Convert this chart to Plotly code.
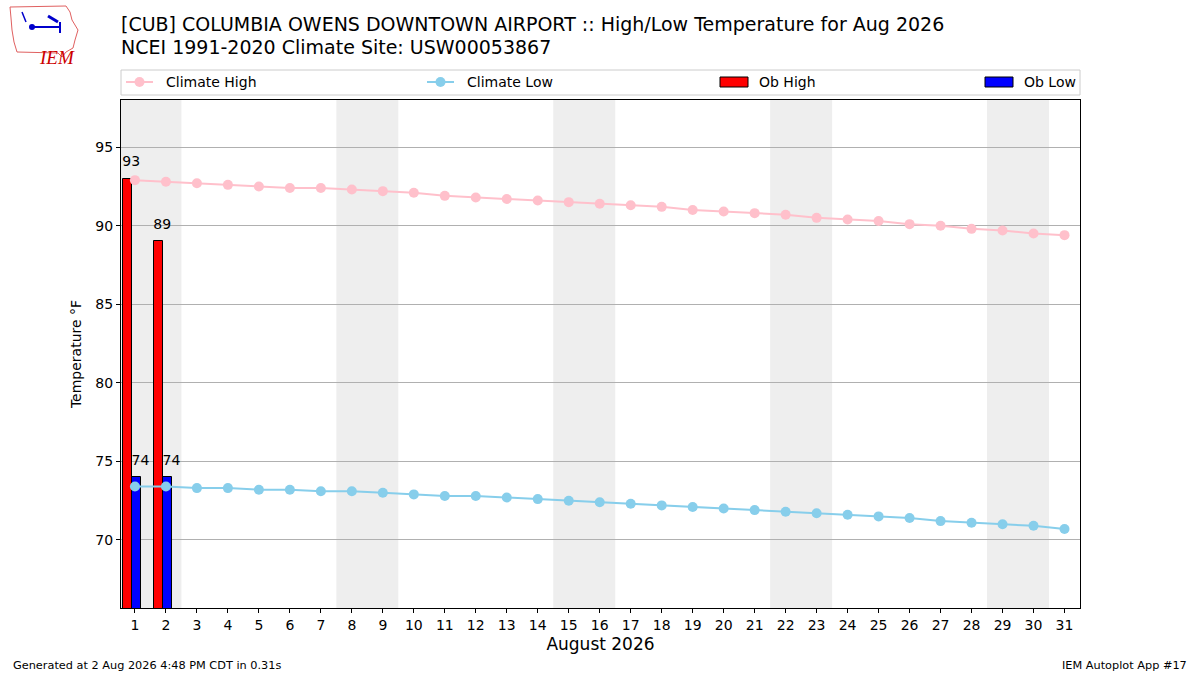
import plotly.graph_objects as go

# Data
days = list(range(1, 32))
climate_high = [92.9, 92.8, 92.7, 92.6, 92.5, 92.4, 92.4, 92.3, 92.2, 92.1,
                91.9, 91.8, 91.7, 91.6, 91.5, 91.4, 91.3, 91.2, 91.0, 90.9,
                90.8, 90.7, 90.5, 90.4, 90.3, 90.1, 90.0, 89.8, 89.7, 89.5, 89.4]
climate_low = [73.4, 73.4, 73.3, 73.3, 73.2, 73.2, 73.1, 73.1, 73.0, 72.9,
               72.8, 72.8, 72.7, 72.6, 72.5, 72.4, 72.3, 72.2, 72.1, 72.0,
               71.9, 71.8, 71.7, 71.6, 71.5, 71.4, 71.2, 71.1, 71.0, 70.9, 70.7]
ob_days = [1, 2]
ob_high = [93, 89]
ob_low = [74, 74]
weekend_starts = [1, 8, 15, 22, 29]  # Sat/Sun pairs in Aug 2026

FONT = "DejaVu Sans"

# plot area in pixels
L, R, T, B = 121, 1080, 100, 608


def px(x):
    return (x - L) / (R - L)


def py(y):
    return (B - y) / (B - T)


fig = go.Figure()

# weekend shading
for d in weekend_starts:
    fig.add_shape(type="rect", x0=d - 0.5, x1=d + 1.5, y0=0, y1=1,
                  xref="x", yref="paper", fillcolor="#eeeeee",
                  line=dict(width=0), layer="below")

fig.add_trace(go.Bar(x=ob_days, y=ob_high, offset=-0.4, width=0.3,
                     marker=dict(color="#ff0000", line=dict(color="black", width=1)),
                     name="Ob High", showlegend=False, hoverinfo="x+y"))
fig.add_trace(go.Bar(x=ob_days, y=ob_low, offset=-0.1, width=0.3,
                     marker=dict(color="#0000ff", line=dict(color="black", width=1)),
                     name="Ob Low", showlegend=False, hoverinfo="x+y"))

fig.add_trace(go.Scatter(x=days, y=climate_high, mode="lines+markers",
                         line=dict(color="#ffc0cb", width=2),
                         marker=dict(color="#ffc0cb", size=10),
                         name="Climate High", showlegend=False))
fig.add_trace(go.Scatter(x=days, y=climate_low, mode="lines+markers",
                         line=dict(color="#87ceeb", width=2),
                         marker=dict(color="#87ceeb", size=10),
                         name="Climate Low", showlegend=False))

# value labels
fig.add_trace(go.Scatter(x=[d - 0.12 for d in ob_days], y=[v + 1 for v in ob_high],
                         mode="text", text=[str(v) for v in ob_high],
                         textfont=dict(family=FONT, size=14, color="black"),
                         showlegend=False, hoverinfo="skip", cliponaxis=False))
fig.add_trace(go.Scatter(x=[d + 0.18 for d in ob_days], y=[v + 1 for v in ob_low],
                         mode="text", text=[str(v) for v in ob_low],
                         textfont=dict(family=FONT, size=14, color="black"),
                         showlegend=False, hoverinfo="skip", cliponaxis=False))

# hand-drawn legend box like matplotlib's expanded legend
fig.add_shape(type="rect", xref="paper", yref="paper", x0=px(121), x1=px(1080),
              y0=py(95), y1=py(70), line=dict(color="#cccccc", width=1),
              fillcolor="white")
legend_items = [
    ("Climate High", "line", "#ffc0cb", 126),
    ("Climate Low", "line", "#87ceeb", 427),
    ("Ob High", "rect", "#ff0000", 720),
    ("Ob Low", "rect", "#0000ff", 985),
]
for label, kind, col, x0 in legend_items:
    if kind == "line":
        fig.add_shape(type="line", xref="paper", yref="paper",
                      x0=px(x0), x1=px(x0 + 27), y0=py(82), y1=py(82),
                      line=dict(color=col, width=2))
        fig.add_shape(type="circle", xref="paper", yref="paper",
                      x0=px(x0 + 8.5), x1=px(x0 + 18.5), y0=py(87), y1=py(77),
                      fillcolor=col, line=dict(color=col, width=0))
        tx = x0 + 38
    else:
        fig.add_shape(type="rect", xref="paper", yref="paper",
                      x0=px(x0), x1=px(x0 + 28), y0=py(87), y1=py(77),
                      fillcolor=col, line=dict(color="black", width=1))
        tx = x0 + 37
    fig.add_annotation(x=px(tx), y=py(82), xref="paper", yref="paper",
                       text=label, showarrow=False, xanchor="left", yanchor="middle",
                       font=dict(family=FONT, size=14, color="black"))

# simple IEM logo
iowa = [(10, 7), (66, 6), (70, 12), (72, 20), (78, 30), (75, 40), (73, 48),
        (66, 52), (62, 57), (58, 53), (17, 52), (14, 42), (12, 30), (11, 18)]
path = "M " + " L ".join(f"{px(x)},{py(y)}" for x, y in iowa) + " Z"
fig.add_shape(type="path", xref="paper", yref="paper", path=path,
              line=dict(color="#e06060", width=1))
fig.add_shape(type="line", xref="paper", yref="paper", x0=px(31), x1=px(60),
              y0=py(27), y1=py(27), line=dict(color="#0000cc", width=2))
fig.add_shape(type="circle", xref="paper", yref="paper", x0=px(29), x1=px(35),
              y0=py(30), y1=py(24), fillcolor="#0000cc", line=dict(width=0))
fig.add_shape(type="line", xref="paper", yref="paper", x0=px(48), x1=px(58),
              y0=py(16), y1=py(22), line=dict(color="#0000cc", width=3))
fig.add_shape(type="line", xref="paper", yref="paper", x0=px(60), x1=px(60),
              y0=py(22), y1=py(33), line=dict(color="#0000cc", width=2))
fig.add_shape(type="line", xref="paper", yref="paper", x0=px(22), x1=px(26),
              y0=py(12), y1=py(22), line=dict(color="#0000cc", width=1.5))
fig.add_annotation(x=px(37), y=py(45), xref="paper", yref="paper", text="<i>IEM</i>",
                   showarrow=False, font=dict(family="Liberation Serif", size=19, color="#cc0000"))

# titles and footer
fig.add_annotation(x=px(119), y=py(24), xref="paper", yref="paper", showarrow=False,
                   xanchor="left", yanchor="middle",
                   text="[CUB] COLUMBIA OWENS DOWNTOWN AIRPORT :: High/Low Temperature for Aug 2026",
                   font=dict(family=FONT, size=19, color="black"))
fig.add_annotation(x=px(119), y=py(47), xref="paper", yref="paper", showarrow=False,
                   xanchor="left", yanchor="middle",
                   text="NCEI 1991-2020 Climate Site: USW00053867",
                   font=dict(family=FONT, size=19, color="black"))
fig.add_annotation(x=px(11), y=py(665), xref="paper", yref="paper", showarrow=False,
                   xanchor="left", yanchor="middle",
                   text="Generated at 2 Aug 2026 4:48 PM CDT in 0.31s",
                   font=dict(family=FONT, size=11.3, color="black"))
fig.add_annotation(x=px(1189), y=py(665), xref="paper", yref="paper", showarrow=False,
                   xanchor="right", yanchor="middle",
                   text="IEM Autoplot App #17",
                   font=dict(family=FONT, size=11.3, color="black"))

fig.update_layout(
    width=1200, height=675,
    margin=dict(l=L, r=1200 - R, t=T, b=675 - B),
    paper_bgcolor="white", plot_bgcolor="white",
    barmode="overlay", bargap=0,
    font=dict(family=FONT, size=14, color="black"),
    showlegend=False,
    xaxis=dict(range=[0.55, 31.5], tickmode="array", tickvals=days,
               ticktext=[str(d) for d in days], showgrid=False, zeroline=False,
               showline=True, linecolor="black", linewidth=1.3, mirror=True,
               ticks="outside", ticklen=4, tickcolor="black",
               tickfont=dict(family=FONT, size=14),
               title=dict(text="August 2026", font=dict(family=FONT, size=17), standoff=6)),
    yaxis=dict(range=[65.67, 98.0], tickvals=[70, 75, 80, 85, 90, 95],
               showgrid=True, gridcolor="#b0b0b0", gridwidth=1, zeroline=False,
               showline=True, linecolor="black", linewidth=1.3, mirror=True,
               ticks="outside", ticklen=4, tickcolor="black",
               tickfont=dict(family=FONT, size=14),
               title=dict(text="Temperature °F", font=dict(family=FONT, size=14), standoff=10)),
)

fig.write_html("out.html", config={"displayModeBar": False},
               post_script="document.body.style.margin='0';")
